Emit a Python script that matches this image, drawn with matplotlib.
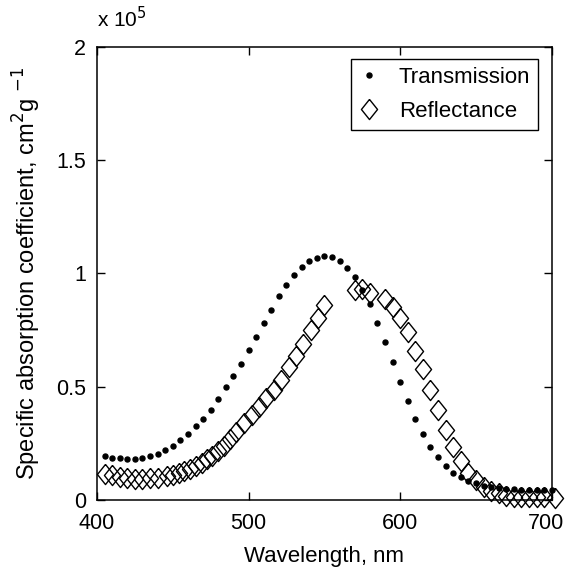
import matplotlib
matplotlib.use("Agg")
import matplotlib.pyplot as plt
from matplotlib.transforms import ScaledTranslation

plt.rcParams['font.family'] = ['Liberation Sans', 'DejaVu Sans']

# transmission, values in units of 1e5 cm^2 g^-1
trans_wl = list(range(405, 701, 5))
trans_val = [0.193, 0.187, 0.186, 0.183, 0.183, 0.187, 0.194, 0.205, 0.219, 0.237,
             0.263, 0.292, 0.325, 0.358, 0.399, 0.446, 0.497, 0.547, 0.602, 0.661,
             0.719, 0.781, 0.839, 0.899, 0.950, 0.991, 1.027, 1.055, 1.069, 1.076,
             1.072, 1.055, 1.025, 0.982, 0.928, 0.863, 0.782, 0.699, 0.611, 0.522,
             0.436, 0.358, 0.292, 0.235, 0.190, 0.151, 0.121, 0.101, 0.085, 0.073,
             0.064, 0.058, 0.054, 0.050, 0.047, 0.046, 0.045, 0.045, 0.044, 0.044]

# reflectance
refl_wl = [405, 410, 415, 420, 425, 430, 435, 440, 446.5, 450, 454, 457.5, 461.5,
           465, 469, 472.5, 476, 480, 483.5, 488, 492, 497, 502, 507, 511.5, 516.5,
           521.5, 526.5, 531, 536, 541, 545.5, 550,
           570, 575, 580, 590, 595, 600, 605, 610, 615, 620, 625, 630, 635, 640,
           645, 650, 655, 660, 665, 670, 675, 680, 685, 690, 695, 702]
refl_val = [0.115, 0.110, 0.102, 0.096, 0.092, 0.092, 0.095, 0.099, 0.106, 0.112,
            0.121, 0.128, 0.137, 0.150, 0.162, 0.180, 0.195, 0.218, 0.240, 0.270,
            0.300, 0.338, 0.375, 0.412, 0.449, 0.487, 0.530, 0.585, 0.635, 0.690,
            0.750, 0.805, 0.860,
            0.925, 0.930, 0.915, 0.888, 0.853, 0.805, 0.743, 0.659, 0.576, 0.485,
            0.397, 0.309, 0.232, 0.173, 0.121, 0.088, 0.059, 0.041, 0.029, 0.019,
            0.015, 0.012, 0.012, 0.012, 0.012, 0.010]

x_ticks = [400, 500, 600, 700]
y_ticks = [0, 0.5, 1, 1.5, 2]
y_tick_labels = ['0', '0.5', '1', '1.5', '2']

diamond = [(0, 1), (0.8, 0), (0, -1), (-0.8, 0), (0, 1)]

fig = plt.figure(figsize=(5.65, 5.68), dpi=100)
ax = fig.add_axes([0.1717, 0.1197, 0.8048, 0.7981])

ax.plot(trans_wl, trans_val, linestyle='none', marker='o', markersize=3.6,
        color='black', clip_on=False, label='Transmission')
ax.plot(refl_wl, refl_val, linestyle='none', marker=diamond, markersize=14.5,
        markerfacecolor='none', markeredgecolor='black', markeredgewidth=1.0,
        clip_on=False, label='Reflectance')

ax.set_xlim(400, 700)
ax.set_ylim(0, 2)
ax.set_xticks(x_ticks)
ax.set_yticks(y_ticks)
ax.set_yticklabels(y_tick_labels)
ax.tick_params(direction='in', length=6, width=1, top=True, right=True,
               labelsize=15.5)
ax.tick_params(axis='x', pad=9)
ax.tick_params(axis='y', pad=8)
for s in ax.spines.values():
    s.set_linewidth(1.1)

# keep the last x label inside the figure
last = ax.get_xticklabels()[-1]
last.set_transform(last.get_transform() + ScaledTranslation(-4 / 72, 0, fig.dpi_scale_trans))

ax.set_xlabel('Wavelength, nm', fontsize=16, labelpad=9)
ax.set_ylabel('Specific absorption coefficient, cm$^{2}$g $^{-1}$', fontsize=17,
              labelpad=9)
ax.text(0.0, 1.035, r'x 10$^{5}$', transform=ax.transAxes, fontsize=15,
        ha='left', va='bottom')

leg = ax.legend(loc='upper right', bbox_to_anchor=(0.97, 0.973), borderaxespad=0,
                fontsize=16, fancybox=False, edgecolor='black', framealpha=1,
                handlelength=0.9, handletextpad=0.9, borderpad=0.35,
                labelspacing=0.6)
leg.get_frame().set_linewidth(1.0)

fig.savefig('out.png', dpi=100)
